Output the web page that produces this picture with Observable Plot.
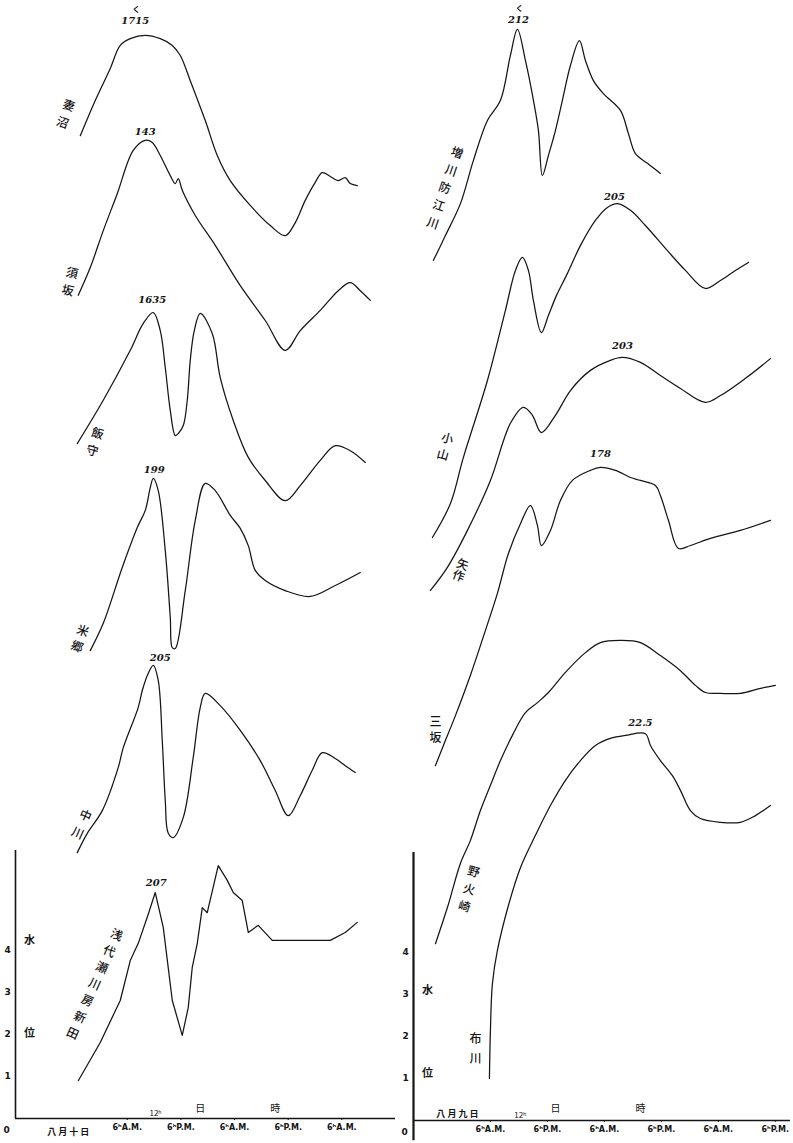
<!DOCTYPE html>
<html><head><meta charset="utf-8">
<script src="https://cdn.jsdelivr.net/npm/d3@7"></script>
<script src="https://cdn.jsdelivr.net/npm/@observablehq/plot@0.6"></script>
<style>
body{margin:0;background:#fff;}
#wrap{display:flex;width:793px;height:1143px;overflow:hidden;background:#fff;}
#wrap svg{display:block;}
</style></head><body><div id="wrap"></div>
<script>
// ---------- data: hours (since midnight of the reference day) and plotted water level ----------
const menumaHours = [-4.51,-1.16,2.20,4.43,6.67,10.03,13.38,16.07,17.86,20.09,23.45,26.13,29.04,33.51,37.99,41.34,43.58,45.81,48.05,49.62,51.41,53.20,54.76,55.88,57.45];
const menumaLevel = [23.40,24.24,25.00,25.55,25.71,25.79,25.71,25.55,25.31,24.71,23.76,22.93,22.33,21.74,21.26,21.02,21.33,21.86,22.29,22.52,22.43,22.33,22.40,22.26,22.21];
const suzakaHours = [-4.96,-2.28,0.63,3.76,7.34,10.03,11.59,13.38,15.62,16.74,17.41,18.30,21.21,25.68,31.28,36.87,41.34,44.70,49.17,53.20,55.88,58.12,60.36];
const suzakaLevel = [19.60,20.26,21.14,22.02,23.05,23.29,23.24,22.93,22.45,22.26,22.38,22.10,21.50,20.79,19.83,19.00,18.29,18.76,19.24,19.71,19.90,19.71,19.48];
const iimoriHours = [-5.18,0.63,6.67,9.58,11.82,13.38,14.50,15.62,16.74,17.41,18.53,19.42,20.09,20.99,22.33,25.01,26.80,29.71,33.07,36.87,41.34,44.70,49.17,52.53,55.88,59.24];
const iimoriLevel = [16.07,17.10,18.29,18.93,19.19,18.76,17.88,16.86,16.26,16.31,16.50,17.10,18.05,18.76,19.17,18.69,17.64,16.62,15.74,15.19,14.71,15.07,15.67,16.02,15.90,15.62];
const yonegoHours = [-2.28,0.63,4.88,8.24,10.03,11.14,11.82,12.93,14.50,15.62,16.07,16.74,18.97,21.21,23.45,25.68,29.04,31.28,33.07,34.63,36.87,41.34,46.93,52.53,58.12];
const yonegoLevel = [11.14,11.79,13.12,14.07,14.48,15.02,15.24,14.95,13.52,11.93,11.21,11.19,12.57,14.24,15.12,14.95,14.36,14.05,13.64,13.05,12.81,12.57,12.43,12.69,13.00];
const nakagawaHours = [-5.18,-2.95,0.41,3.99,5.11,8.46,9.36,10.70,11.82,12.93,13.83,14.50,15.17,16.29,18.53,20.76,22.33,23.45,26.80,31.28,35.75,39.10,42.01,44.70,47.38,49.62,52.53,54.76,57.00];
const nakagawaLevel = [6.33,6.79,7.33,8.36,8.83,9.79,10.19,10.60,10.79,10.43,9.00,7.57,6.79,6.69,7.17,8.60,9.79,10.12,9.83,9.24,8.52,7.81,7.21,7.69,8.29,8.71,8.57,8.40,8.24];
const shindenHours = [-4.96,-0.04,4.43,6.67,8.46,10.47,12.26,14.05,16.07,18.30,19.64,20.54,21.66,22.78,23.89,26.35,28.37,29.71,31.72,33.07,35.30,38.43,51.41,54.76,57.45];
const shindenLevel = [0.90,1.81,2.81,3.76,4.17,4.79,5.38,4.55,2.81,1.98,2.64,3.60,4.17,5.02,4.90,6.02,5.67,5.38,5.19,4.43,4.60,4.24,4.24,4.43,4.67];

const masukawaHours = [-6.00,-3.48,-0.32,2.42,5.37,8.11,10.21,11.69,13.37,15.06,16.11,16.95,18.22,19.69,21.16,22.85,24.74,26.01,27.69,29.80,33.38,35.06,36.54,39.07,41.80];
const masukawaLevel = [20.48,21.07,21.83,22.86,23.81,24.29,25.36,25.98,25.24,24.29,23.57,22.50,22.98,23.57,24.29,25.12,25.71,25.24,24.76,24.45,24.05,23.50,23.02,22.79,22.55];
const oyamaHours = [-6.22,-2.42,0.31,5.37,9.16,11.27,12.74,14.00,15.06,16.74,18.22,19.90,22.22,24.95,28.11,30.64,32.75,35.49,38.64,43.28,47.07,51.28,54.44,57.60,60.34];
const oyamaLevel = [13.88,14.69,15.79,17.62,19.29,20.24,20.55,20.24,19.52,18.76,19.17,19.64,20.17,20.83,21.43,21.74,21.83,21.67,21.31,20.71,20.24,19.81,20.00,20.24,20.43];
const yahagiHours = [-6.64,-3.06,1.16,6.00,10.21,12.95,14.85,16.74,19.69,22.85,27.06,31.27,33.80,37.59,41.80,46.02,51.28,54.44,59.71,64.97];
const yahagiLevel = [12.62,13.17,14.05,15.24,16.60,16.98,16.79,16.38,16.79,17.38,17.86,18.10,18.17,18.05,17.74,17.43,17.10,17.26,17.67,18.14];
const misakaHours = [-5.58,-3.90,-1.37,1.79,4.95,7.47,9.79,12.32,14.42,15.90,16.74,18.64,20.74,23.27,27.06,29.17,32.33,35.49,37.59,40.75,41.80,43.49,45.59,48.12,52.33,58.65,64.97];
const misakaLevel = [8.45,8.93,9.64,10.60,11.67,12.55,13.50,14.21,14.64,14.17,13.69,14.05,14.76,15.24,15.48,15.55,15.48,15.31,15.24,15.12,14.88,14.29,13.62,13.69,13.86,14.05,14.29];
const nogizakiHours = [-5.58,-3.06,-0.32,1.79,3.89,6.00,8.11,10.63,13.37,15.90,18.22,21.80,26.01,29.17,33.38,37.59,41.80,46.02,49.18,51.28,54.44,58.65,62.86,66.02];
const nogizakiLevel = [4.21,5.07,6.12,6.67,7.38,7.98,8.57,9.17,9.71,9.95,10.19,10.67,11.14,11.38,11.43,11.38,11.07,10.71,10.36,10.19,10.17,10.17,10.29,10.36];
const fukawaHours = [5.79,6.00,6.42,7.47,9.79,12.32,15.48,18.64,21.80,24.95,28.11,31.27,34.43,38.64,39.70,41.80,44.33,46.02,48.12,50.23,54.44,58.65,61.81,64.97];
const fukawaLevel = [1.00,2.14,3.26,4.05,5.12,6.02,6.79,7.50,8.10,8.57,8.93,9.10,9.17,9.21,8.93,8.57,8.21,7.86,7.38,7.19,7.10,7.10,7.26,7.50];

const leftNames = ["妻沼","須坂","飯守","米郷","中川","浅代瀬川房新田"];
const leftPeakText = ["1715","143","1635","199","205","207"];
const leftPeakHour = [10.03,10.03,11.82,11.82,11.82,12.26];
const rightNames = ["増川防江川","小山","矢作","三坂","野火崎","布川"];
const rightPeakText = ["212","205","203","178","","22.5"];
const rightPeakHour = [11.69,32.75,33.80,29.17,null,38.64];

const leftTicks = [6,18,30,42,54];
const leftTickText = ["6ʰA.M.","6ʰP.M.","6ʰA.M.","6ʰP.M.","6ʰA.M."];
const rightTicks = [6,18,30,42,54,66];
const rightTickText = ["6ʰA.M.","6ʰP.M.","6ʰA.M.","6ʰP.M.","6ʰA.M.","6ʰP.M."];
const levelTicks = [1,2,3,4];
const leftDate = "八 月 十 日";
const rightDate = "八 月 九 日";

// ---------- layout (offsets / rotations only) ----------
const leftLabelLayout = [[-14,-23,20,1.5],[-8,-15,13,1.5],[18,-3,17,1.5],[-10,-13,20,1.4],[5,-30,24,1.6],[17,-98,24,1.5]];
const leftPeakLayout = [[-10,-15],[0,-9],[-1,-13],[1,-9],[7,-8],[1,-10]];
const rightLabelLayout = [[12,-74,19,1.55],[13,-92,15,1.4],[30,-20,20,1.0],[0,-37,0,1.4],[34,-56,15,1.5],[-14,-32,0,1.7]];
const rightPeakLayout = [[1,-10],[-3,-7],[0,-12],[0,-14],null,[-5,-11]];

const CJK = "'Noto Sans CJK JP', 'Noto Sans CJK SC', sans-serif";
const INK = "#151515";

function panel(cfg) {
  const rows = [];
  cfg.names.forEach((n, i) => cfg.hours[i].forEach((t, j) => rows.push({station: n, t, h: cfg.levels[i][j], linear: !!cfg.linear[i]})));
  const marks = [
    Plot.ruleX([cfg.xDomain[0]], {y1: cfg.axisBottom, y2: 6.38, stroke: INK, strokeWidth: cfg.axisWidth}),
    Plot.ruleY([0], {x1: cfg.xDomain[0], x2: cfg.xDomain[1], stroke: INK, strokeWidth: 1.4}),
    Plot.line(rows.filter(d => !d.linear), {x: "t", y: "h", z: "station", curve: "catmull-rom", stroke: INK, strokeWidth: 1.25}),
    Plot.line(rows.filter(d => d.linear), {x: "t", y: "h", z: "station", curve: "linear", stroke: INK, strokeWidth: 1.25}),
    Plot.text([0], {x: () => cfg.xDomain[0], y: () => 0, text: () => "0", dx: -9, dy: 12, fontSize: 9, fontWeight: "bold", fill: INK}),
    Plot.text(levelTicks, {x: () => cfg.xDomain[0], y: d => d, text: d => String(d), dx: -8, fontSize: 9, fontWeight: "bold", fill: INK})
  ];
  cfg.names.forEach((n, i) => {
    const [dx, dy, rot, lh] = cfg.labelLayout[i];
    marks.push(Plot.text([{t: cfg.hours[i][0], h: cfg.levels[i][0]}], {
      x: "t", y: "h", text: () => n.split("").join("\n"), dx, dy, rotate: rot, lineHeight: lh,
      fontSize: 12, fontFamily: CJK, fill: INK, fontWeight: 500
    }));
    if (cfg.peakHour[i] != null) {
      const j = d3.minIndex(cfg.hours[i], t => Math.abs(t - cfg.peakHour[i]));
      const [px, py] = cfg.peakLayout[i];
      marks.push(Plot.text([{t: cfg.hours[i][j], h: cfg.levels[i][j]}], {
        x: "t", y: "h", text: () => cfg.peakText[i], dx: px, dy: py,
        fontSize: 10, fontStyle: "italic", fontFamily: "'DejaVu Serif', serif", fill: INK
      }));
      if (cfg.caret && cfg.caret[i]) {
        marks.push(Plot.text([{t: cfg.hours[i][j], h: cfg.levels[i][j]}], {
          x: "t", y: "h", text: () => "く", dx: px + 1, dy: py - 11, fontSize: 8, fontFamily: CJK, fill: INK
        }));
      }
    }
  });
  cfg.notes.forEach(nt => marks.push(Plot.text([nt], {
    x: "t", y: () => 0, text: "s", dy: nt.dy, fontSize: nt.size, fontFamily: CJK, fill: INK, fontWeight: nt.bold ? "bold" : "normal"
  })));
  marks.push(Plot.text([{s: "水", h: cfg.waterY}, {s: "位", h: cfg.posY}], {
    x: () => cfg.xDomain[0], y: "h", text: "s", dx: 14, fontSize: 11, fontFamily: CJK, fill: INK
  }));
  return Plot.plot({
    width: cfg.width, height: 1143,
    marginLeft: cfg.marginLeft, marginRight: cfg.marginRight, marginTop: 0, marginBottom: cfg.marginBottom,
    x: {domain: cfg.xDomain, ticks: cfg.ticks, tickFormat: (d) => cfg.tickText[cfg.ticks.indexOf(d)], tickSize: 2, tickPadding: 4, label: null},
    y: {domain: cfg.yDomain, axis: null},
    style: {background: "white", color: INK, fontSize: "8px", fontWeight: "bold", fontFamily: "'DejaVu Sans', sans-serif", overflow: "visible"},
    marks
  });
}

const left = panel({
  width: 400, marginLeft: 15, marginRight: 5, marginBottom: 25,
  xDomain: [-19, 66], yDomain: [0, 1118 / 42], axisBottom: 0, axisWidth: 1.6,
  names: leftNames,
  hours: [menumaHours, suzakaHours, iimoriHours, yonegoHours, nakagawaHours, shindenHours],
  levels: [menumaLevel, suzakaLevel, iimoriLevel, yonegoLevel, nakagawaLevel, shindenLevel],
  linear: [false, false, false, false, false, true],
  peakText: leftPeakText, peakHour: leftPeakHour, peakLayout: leftPeakLayout, labelLayout: leftLabelLayout,
  caret: [true, false, false, false, false, false],
  ticks: leftTicks, tickText: leftTickText,
  waterY: 4.24, posY: 2.02,
  notes: [
    {t: -7.2, s: leftDate, dy: 14, size: 9, bold: true},
    {t: 12.3, s: "12ʰ", dy: -5, size: 8},
    {t: 22.3, s: "日", dy: -10, size: 10},
    {t: 39.1, s: "時", dy: -10, size: 10}
  ]
});
const right = panel({
  width: 393, marginLeft: 13, marginRight: 3, marginBottom: 23,
  xDomain: [-10.2, 69.2], yDomain: [0, 1120 / 42], axisBottom: -0.48, axisWidth: 2.2,
  names: rightNames,
  hours: [masukawaHours, oyamaHours, yahagiHours, misakaHours, nogizakiHours, fukawaHours],
  levels: [masukawaLevel, oyamaLevel, yahagiLevel, misakaLevel, nogizakiLevel, fukawaLevel],
  linear: [false, false, false, false, false, false],
  peakText: rightPeakText, peakHour: rightPeakHour, peakLayout: rightPeakLayout, labelLayout: rightLabelLayout,
  caret: [true, false, false, false, false, false],
  ticks: rightTicks, tickText: rightTickText,
  waterY: 3.1, posY: 1.12,
  notes: [
    {t: -0.95, s: rightDate, dy: -6, size: 9, bold: true},
    {t: 12.3, s: "12ʰ", dy: -5, size: 8},
    {t: 19.7, s: "日", dy: -12, size: 10},
    {t: 37.6, s: "時", dy: -12, size: 10}
  ]
});
document.getElementById("wrap").append(left, right);
</script></body></html>
